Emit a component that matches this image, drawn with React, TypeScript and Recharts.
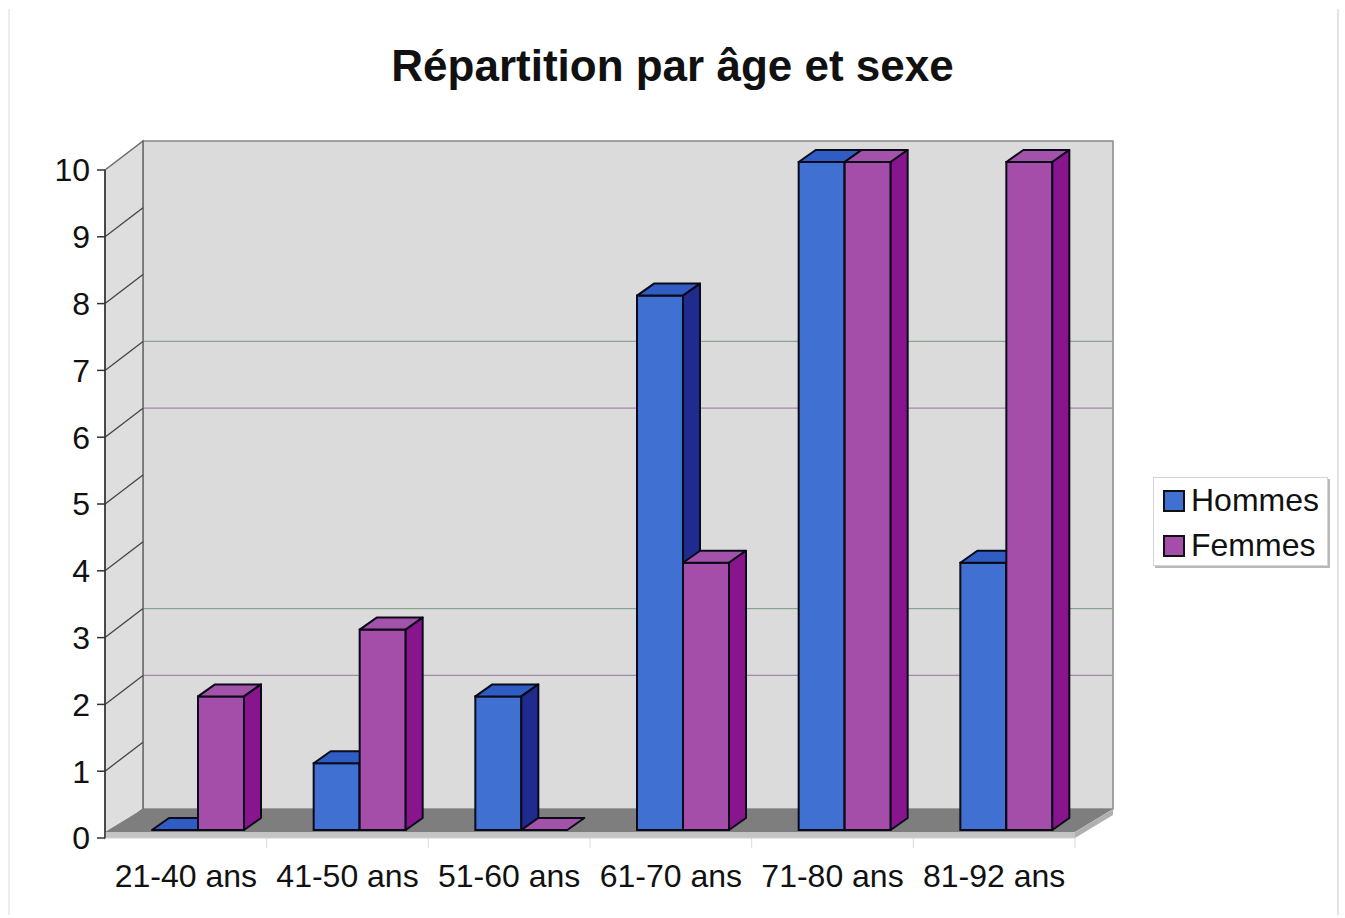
import React from 'react';
import { BarChart, Bar, XAxis, YAxis, Legend, ReferenceArea } from 'recharts';

const categories = ['21-40 ans', '41-50 ans', '51-60 ans', '61-70 ans', '71-80 ans', '81-92 ans'];
const hommes = [0, 1, 2, 8, 10, 4];
const femmes = [2, 3, 0, 4, 10, 10];
const yTicks = [0, 1, 2, 3, 4, 5, 6, 7, 8, 9, 10];
const visibleGrid = [2, 3, 6, 7];
const seriesNames = ['Hommes', 'Femmes'];

const data = categories.map((c, i) => ({ cat: c, Hommes: hommes[i], Femmes: femmes[i] }));

const FONT = '"Liberation Sans", Arial, sans-serif';
const WALL_DX = 38;
const WALL_DY = -29;
const BAR_SHIFT_X = 12;
const BAR_SHIFT_Y = -8;
const BAR_DX = 17;
const BAR_DY = -12;

const COLORS: Record<string, { front: string; top: string; side: string }> = {
  Hommes: { front: '#3f70d2', top: '#2f5dc4', side: '#1f2b8e' },
  Femmes: { front: '#a54ea9', top: '#a352a9', side: '#88148e' },
};
const OUTLINE = '#0a0a18';

const makeBar = (name: string) => (props: any) => {
  const { x, y, width, height } = props;
  if (x == null || y == null) return null;
  const c = COLORS[name];
  const bx = x + BAR_SHIFT_X;
  const by = y + BAR_SHIFT_Y;
  const h = Math.max(0, height);
  const bottom = by + h;
  return (
    <g>
      {h > 0 && (
        <rect x={bx} y={by} width={width} height={h} fill={c.front} stroke={OUTLINE} strokeWidth={2} />
      )}
      <polygon
        points={`${bx},${by} ${bx + BAR_DX},${by + BAR_DY} ${bx + width + BAR_DX},${by + BAR_DY} ${bx + width},${by}`}
        fill={c.top}
        stroke={OUTLINE}
        strokeWidth={2}
        strokeLinejoin="round"
      />
      {h > 0 && (
        <polygon
          points={`${bx + width},${by} ${bx + width + BAR_DX},${by + BAR_DY} ${bx + width + BAR_DX},${bottom + BAR_DY} ${bx + width},${bottom}`}
          fill={c.side}
          stroke={OUTLINE}
          strokeWidth={2}
          strokeLinejoin="round"
        />
      )}
    </g>
  );
};

const Walls = (props: any) => {
  const { x, y, width, height } = props;
  if (x == null) return null;
  const yv = (v: number) => y + height * (1 - v / 10);
  const bottom = y + height;
  const slab = 6;
  const band = width / categories.length;
  return (
    <g>
      <rect x={x + WALL_DX} y={y + WALL_DY} width={width} height={height} fill="#dbdbdb" stroke="#8a8a8a" strokeWidth={1.5} />
      {visibleGrid.map((v, i) => (
        <line
          key={v}
          x1={x + WALL_DX}
          x2={x + WALL_DX + width}
          y1={yv(v) + WALL_DY}
          y2={yv(v) + WALL_DY}
          stroke={i % 2 === 0 ? '#a08aa6' : '#8aa58e'}
          strokeWidth={1.3}
        />
      ))}
      <polygon
        points={`${x},${y} ${x + WALL_DX},${y + WALL_DY} ${x + WALL_DX},${bottom + WALL_DY} ${x},${bottom}`}
        fill="#dedede"
        stroke="#6a6a6a"
        strokeWidth={1.5}
      />
      {yTicks.slice(1, -1).map((v) => (
        <line key={v} x1={x} y1={yv(v)} x2={x + WALL_DX} y2={yv(v) + WALL_DY} stroke="#444" strokeWidth={1.3} />
      ))}
      <polygon
        points={`${x},${bottom - slab} ${x + WALL_DX},${bottom + WALL_DY} ${x + WALL_DX + width},${bottom + WALL_DY} ${x + width},${bottom - slab}`}
        fill="#7e7e7e"
      />
      <rect x={x} y={bottom - slab} width={width} height={slab} fill="#c4c4c4" />
      <polygon
        points={`${x + width},${bottom - slab} ${x + WALL_DX + width},${bottom + WALL_DY} ${x + WALL_DX + width},${bottom + WALL_DY + slab} ${x + width},${bottom}`}
        fill="#b0b0b0"
      />
      <line x1={x} y1={bottom} x2={x + width} y2={bottom} stroke="#d0d0d0" strokeWidth={1} />
      {categories.map((c, i) => (
        <line key={c} x1={x + band * (i + 1)} x2={x + band * (i + 1)} y1={bottom} y2={bottom + 10} stroke="#dadada" strokeWidth={1} />
      ))}
    </g>
  );
};

const renderLegend = () => (
  <div
    style={{
      width: 175,
      height: 89,
      border: '1px solid #d4d4d4',
      boxShadow: '2px 2px 0 #b8b8b8',
      background: '#fff',
      fontFamily: FONT,
      fontSize: 32,
      color: '#111',
      boxSizing: 'border-box',
      paddingLeft: 9,
    }}
  >
    {seriesNames.map((n) => (
      <div key={n} style={{ display: 'flex', alignItems: 'center', height: 45, lineHeight: '45px' }}>
        <span
          style={{
            display: 'inline-block',
            width: 18,
            height: 18,
            background: COLORS[n].front,
            border: '2px solid #111',
            marginRight: 6,
          }}
        />
        <span>{n}</span>
      </div>
    ))}
  </div>
);

export default function App() {
  return (
    <div style={{ position: 'absolute', left: 0, top: 0, width: 1345, height: 918, background: '#fff' }}>
      <div style={{ position: 'absolute', left: 8, top: 9, width: 2, height: 906, background: '#eeeeee' }} />
      <div style={{ position: 'absolute', left: 1337, top: 9, width: 2, height: 906, background: '#e4e4e4' }} />
      <div
        style={{
          position: 'absolute',
          left: 0,
          top: 44,
          width: 1345,
          textAlign: 'center',
          fontFamily: FONT,
          fontWeight: 'bold',
          fontSize: 44,
          lineHeight: '43px',
          color: '#111',
        }}
      >
        Répartition par âge et sexe
      </div>
      <div style={{ position: 'absolute', left: 0, top: 0 }}>
        <BarChart
          width={1345}
          height={918}
          data={data}
          margin={{ top: 170, right: 93, bottom: 30, left: 20 }}
          barSize={46}
          barGap={0}
        >
          <ReferenceArea y1={0} y2={10} shape={<Walls />} zIndex={-200} ifOverflow="visible" />
          <XAxis
            dataKey="cat"
            height={50}
            axisLine={false}
            tickLine={false}
            tickSize={0}
            tickMargin={26}
            interval={0}
            tick={{ fontSize: 32, fontFamily: FONT, fill: '#111' }}
          />
          <YAxis
            domain={[0, 10]}
            ticks={yTicks}
            width={85}
            interval={0}
            axisLine={{ stroke: '#333', strokeWidth: 1.5 }}
            tickLine={{ stroke: '#333', strokeWidth: 1.5 }}
            tickSize={8}
            tickMargin={7}
            tick={{ fontSize: 32, fontFamily: FONT, fill: '#111' }}
          />
          <Bar dataKey="Hommes" fill={COLORS.Hommes.front} isAnimationActive={false} shape={makeBar('Hommes')} />
          <Bar dataKey="Femmes" fill={COLORS.Femmes.front} isAnimationActive={false} shape={makeBar('Femmes')} />
          <Legend
            layout="vertical"
            align="right"
            verticalAlign="middle"
            content={renderLegend}
            wrapperStyle={{ left: 1153, top: 477, right: 'auto', bottom: 'auto', width: 177, height: 91 }}
          />
        </BarChart>
      </div>
    </div>
  );
}
